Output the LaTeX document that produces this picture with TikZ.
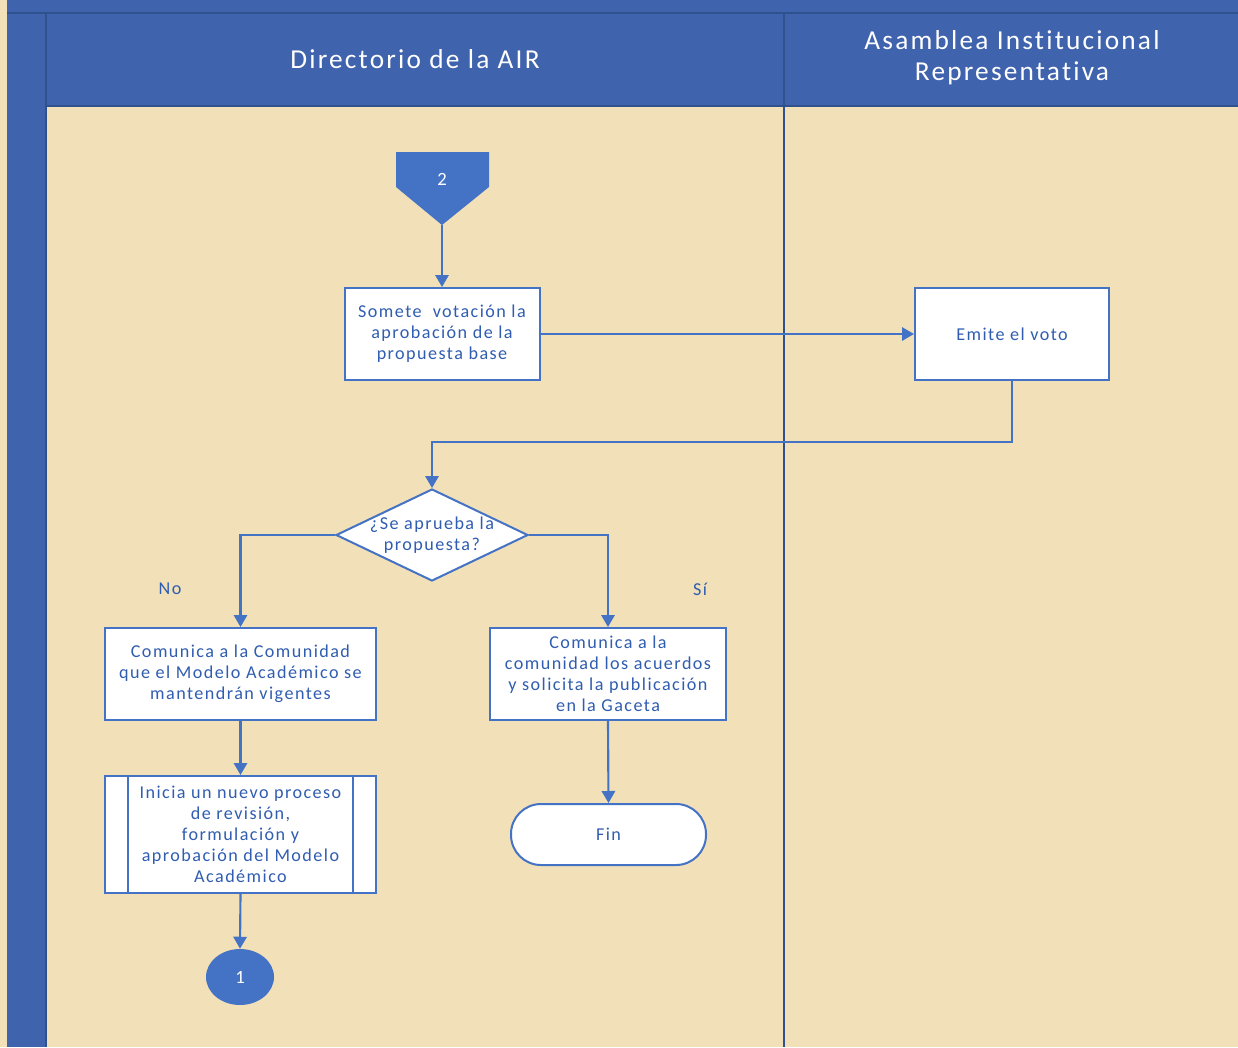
\documentclass[tikz,border=0pt]{standalone}
\usepackage{fontspec}
\setmainfont[LetterSpace=8,Ligatures={NoCommon,NoRare,NoContextual}]{Carlito}
\usetikzlibrary{arrows.meta,shapes.geometric}
\definecolor{parch}{HTML}{F1E0B8}
\definecolor{hdr}{HTML}{3F63AD}
\definecolor{hdrline}{HTML}{2F528F}
\definecolor{acc}{HTML}{4472C4}
\definecolor{txt}{HTML}{305DB0}
\tikzset{
  boxfont/.style={font=\fontsize{13.6}{15.75}\selectfont},
  box/.style={draw=acc,line width=1.5pt,fill=white,text=txt,align=center,boxfont},
  conn/.style={draw=acc,line width=1.6pt,-{Triangle[length=9pt,width=10pt]}},
  lbl/.style={text=txt,font=\fontsize{13.6}{15}\selectfont},
  head/.style={text=white,align=center,font=\fontsize{20.5}{23.5}\selectfont}
}
\begin{document}
\begin{tikzpicture}[x=0.75pt,y=-0.75pt]
\useasboundingbox (0,0) rectangle (1238,1047);
\fill[parch] (0,0) rectangle (1238,1047);
% blue frame
\fill[hdr] (7,0) rectangle (1238,106);
\fill[hdr] (7,0) rectangle (46,1047);
\draw[hdrline,line width=1pt] (7,13) -- (1238,13);
\draw[hdrline,line width=1pt] (46,13) -- (46,1047);
\draw[hdrline,line width=1pt] (46,106) -- (1238,106);
\draw[hdrline,line width=1.6pt] (784,13) -- (784,1047);
\node[head] (h1) at (415,59) {Directorio de la AIR};
\node[head] (h2) at (1012,58) {Asamblea Institucional\\Representativa};
% off-page connector
\coordinate (op) at (442,225);
\fill[acc] (396,152) -- (489,152) -- (489,187) -- (op) -- (396,187) -- cycle;
\node[text=white,font=\fontsize{14}{15}\selectfont] (c2) at (442,179) {2};
% boxes
\node[box,minimum width=195*0.75pt,minimum height=92*0.75pt,inner sep=1pt] (somete) at (442,334) {Somete \ votación la\\aprobación de la\\propuesta base};
\node[box,minimum width=194*0.75pt,minimum height=92*0.75pt] (emite) at (1012,334) {Emite el voto};
\node[diamond,draw=acc,line width=1.5pt,fill=white,minimum width=192*0.75pt,minimum height=92*0.75pt,inner sep=0pt] (dec) at (432,535) {};
\node[text=txt,align=center,boxfont] (dect) at (432,535) {¿Se aprueba la\\propuesta?};
\node[box,minimum width=271*0.75pt,minimum height=92*0.75pt,inner sep=1pt] (com1) at (240.5,674) {Comunica a la Comunidad\\que el Modelo Académico se\\mantendrán vigentes};
\node[box,minimum width=236*0.75pt,minimum height=92*0.75pt,inner sep=1pt] (com2) at (608,674) {Comunica a la\\comunidad los acuerdos\\y solicita la publicación\\en la Gaceta};
\node[box,minimum width=271*0.75pt,minimum height=117*0.75pt,inner sep=1pt] (inicia) at (240.5,834.5) {Inicia un nuevo proceso\\de revisión,\\formulación y\\aprobación del Modelo\\Académico};
\draw[acc,line width=1.5pt] (128,776) -- (128,893) (353,776) -- (353,893);
\node[box,rounded corners=30*0.75pt,minimum width=195*0.75pt,minimum height=61*0.75pt] (fin) at (608.5,834.5) {Fin};
\node[ellipse,fill=acc,minimum width=68*0.75pt,minimum height=56*0.75pt,text=white,font=\fontsize{14}{15}\selectfont] (c1) at (240,977) {1};
% labels
\node[lbl] (no) at (170,589) {No};
\node[lbl] (si) at (700,589) {Sí};
% connectors
\draw[conn] (op) -- (somete.north);
\draw[conn] (somete.east) -- (emite.west);
\draw[conn] (emite.south) |- (432,442) -- (dec.north);
\draw[conn] (dec.west) -| (com1.north);
\draw[conn] (dec.east) -| (com2.north);
\draw[conn] (com1.south) -- (inicia.north);
\draw[conn] (com2.south) -- (fin.north);
\draw[conn] (inicia.south) -- (c1.north);
\end{tikzpicture}
\end{document}
